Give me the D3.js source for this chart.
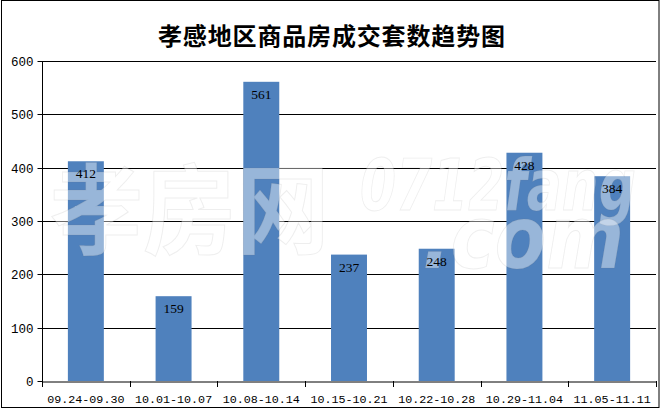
<!DOCTYPE html>
<html><head><meta charset="utf-8">
<script src="https://cdn.jsdelivr.net/npm/d3@7"></script>
<style>body{margin:0;background:#fff;} svg{display:block;}</style>
</head><body>
<svg id="c" width="663" height="411"></svg>
<script>
const title = "孝感地区商品房成交套数趋势图";
const categories = ["09.24-09.30","10.01-10.07","10.08-10.14","10.15-10.21","10.22-10.28","10.29-11.04","11.05-11.11"];
const values = [412,159,561,237,248,428,384];
const yTicks = [0,100,200,300,400,500,600];
const watermark = ["孝房网","0712fang",".com"];

const svg = d3.select("#c");
const x = d3.scaleBand().domain(categories).range([42,656]).paddingInner(0.59).paddingOuter(0.295);
const xb = d3.scaleBand().domain(categories).range([42,656]);
const y = d3.scaleLinear().domain([0,600]).range([381,61]);

// outer border
svg.append("rect").attr("x",1.5).attr("y",0.5).attr("width",657.5).attr("height",407).attr("fill","none").attr("stroke","#000");

// title
svg.append("text").attr("x",158).attr("y",45)
  .attr("font-family","'Noto Sans CJK SC'").attr("font-weight","bold").attr("font-size",24)
  .attr("textLength",347).attr("lengthAdjust","spacing").text(title);

// gridlines
svg.append("g").selectAll("line").data(yTicks.filter(d=>d>0)).join("line")
  .attr("x1",42).attr("x2",656).attr("y1",d=>Math.round(y(d))+0.5).attr("y2",d=>Math.round(y(d))+0.5)
  .attr("stroke","#000");

// y axis
const ya = svg.append("g").attr("transform","translate(42.5,0)")
  .call(d3.axisLeft(y).tickValues(yTicks).tickSize(5).tickPadding(4).tickFormat(d3.format("d")));
ya.select(".domain").attr("d","M0,61V381").attr("stroke","#000");
ya.selectAll(".tick line").attr("stroke","#000");
ya.selectAll("text").attr("font-family","'Liberation Mono'").attr("font-size",12.5).attr("fill","#000");
ya.selectAll(".tick").attr("transform",d=>`translate(0,${Math.round(y(d))+0.5})`);

// bars
svg.append("g").selectAll("rect").data(values).join("rect")
  .attr("x",(d,i)=>x(categories[i])).attr("width",x.bandwidth())
  .attr("y",d=>y(d)).attr("height",d=>y(0)-y(d)).attr("fill","#4f81bd");

// x axis
const xa = svg.append("g").attr("transform","translate(0,381.5)")
  .call(d3.axisBottom(xb).tickSize(0).tickPadding(13));
xa.select(".domain").attr("stroke","#000");
xa.selectAll("text").attr("font-family","'Liberation Mono'").attr("font-size",11.7).attr("fill","#000");
const bounds = categories.map(c=>xb(c)).concat([656]);
svg.append("g").selectAll("line").data(bounds).join("line")
  .attr("x1",d=>Math.round(d)+0.5).attr("x2",d=>Math.round(d)+0.5).attr("y1",381).attr("y2",387).attr("stroke","#000");

// watermark
const wm = svg.append("g").attr("pointer-events","none");
const wmStyle = s => s.attr("fill","#fff").attr("fill-opacity",0.42).attr("stroke","#777").attr("stroke-opacity",0.12);
wm.append("text").attr("transform","translate(50,246) scale(0.95,1)").attr("font-family","'Noto Sans CJK SC'").attr("font-weight","bold")
  .attr("font-size",98).call(wmStyle).text(watermark[0]);
wm.append("text").attr("transform","translate(360,210) scale(0.72,1)").attr("font-family","'DejaVu Sans'").attr("font-weight","bold").attr("font-style","italic")
  .attr("font-size",72).call(wmStyle).text(watermark[1]);
wm.append("text").attr("transform","translate(422,268) scale(0.85,1)").attr("font-family","'DejaVu Sans'").attr("font-weight","bold").attr("font-style","italic")
  .attr("font-size",88).call(wmStyle).text(watermark[2]);

// value labels
svg.append("g").selectAll("text").data(values).join("text")
  .attr("x",(d,i)=>x(categories[i])+x.bandwidth()/2).attr("y",d=>y(d)+17)
  .attr("text-anchor","middle").attr("font-family","'Liberation Serif'").attr("font-size",13.5).attr("fill","#000")
  .text(d=>d);
</script>
</body></html>
